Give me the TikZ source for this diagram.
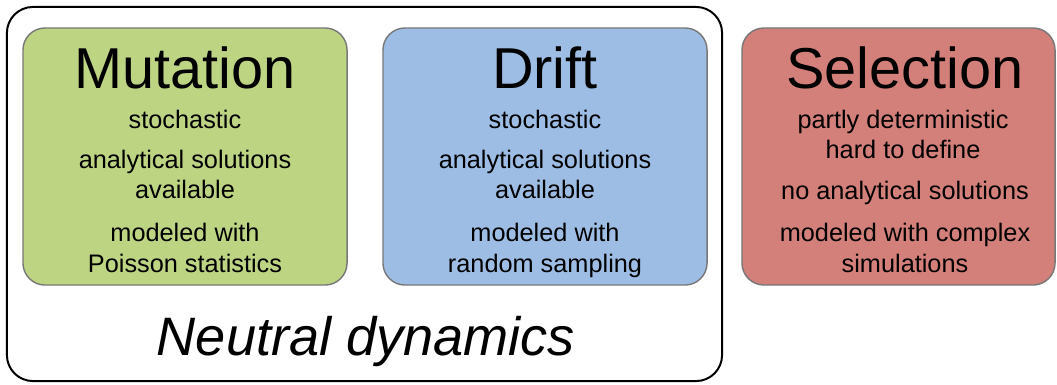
\documentclass[tikz,border=0pt]{standalone}
\usepackage{fontspec}
\setmainfont{Liberation Sans}

\definecolor{mutgreen}{RGB}{189,212,131}
\definecolor{driftblue}{RGB}{157,189,228}
\definecolor{selred}{RGB}{211,127,122}
\definecolor{boxgray}{RGB}{120,120,120}

\tikzset{
  force/.style={draw=boxgray, line width=1pt, rounded corners=0.55cm,
    minimum width=8.1cm, minimum height=6.425cm, inner sep=0pt},
  title/.style={anchor=base, inner sep=0pt, font=\fontsize{41}{45}\selectfont},
  line/.style={anchor=base, inner sep=0pt, font=\fontsize{18}{21}\selectfont},
}

\begin{document}
\begin{tikzpicture}[x=0.025cm, y=-0.025cm]
    \useasboundingbox (0,0) rectangle (1057,384);
    % frame round the two neutral forces
    \node[draw, line width=1.4pt, rounded corners=0.65cm, minimum width=17.875cm,
      minimum height=9.35cm, inner sep=0pt] (neutral) at (364.5,194) {};
    \node[anchor=base, inner sep=0pt, font=\fontsize{38.5}{42}\selectfont\itshape]
      (neutrallabel) at (366,355) {Neutral dynamics};

    % the three boxes
    \node[force, fill=mutgreen] (mutation) at (185,156.5) {};
    \node[force, fill=driftblue] (drift) at (545,156.5) {};
    \node[force, fill=selred, minimum width=7.825cm] (selection) at (898.5,156.5) {};

    % mutation
    \node[title] (mutT) at (185,88) {Mutation};
    \node[line] (mut1) at (185,128) {stochastic};
    \node[line] (mut2) at (185,168) {analytical solutions};
    \node[line] (mut3) at (185,198) {available};
    \node[line] (mut4) at (185,241) {modeled with};
    \node[line] (mut5) at (185,272) {Poisson statistics};

    % drift
    \node[title] (driT) at (545,88) {Drift};
    \node[line] (dri1) at (545,128) {stochastic};
    \node[line] (dri2) at (545,168) {analytical solutions};
    \node[line] (dri3) at (545,198) {available};
    \node[line] (dri4) at (545,241) {modeled with};
    \node[line] (dri5) at (545,272) {random sampling};

    % selection
    \node[title] (selT) at (905,88) {Selection};
    \node[line] (sel1) at (903,128) {partly deterministic};
    \node[line] (sel2) at (903,158) {hard to define};
    \node[line] (sel3) at (905,199) {no analytical solutions};
    \node[line] (sel4) at (905,241) {modeled with complex};
    \node[line] (sel5) at (905,272) {simulations};
\end{tikzpicture}
\end{document}
